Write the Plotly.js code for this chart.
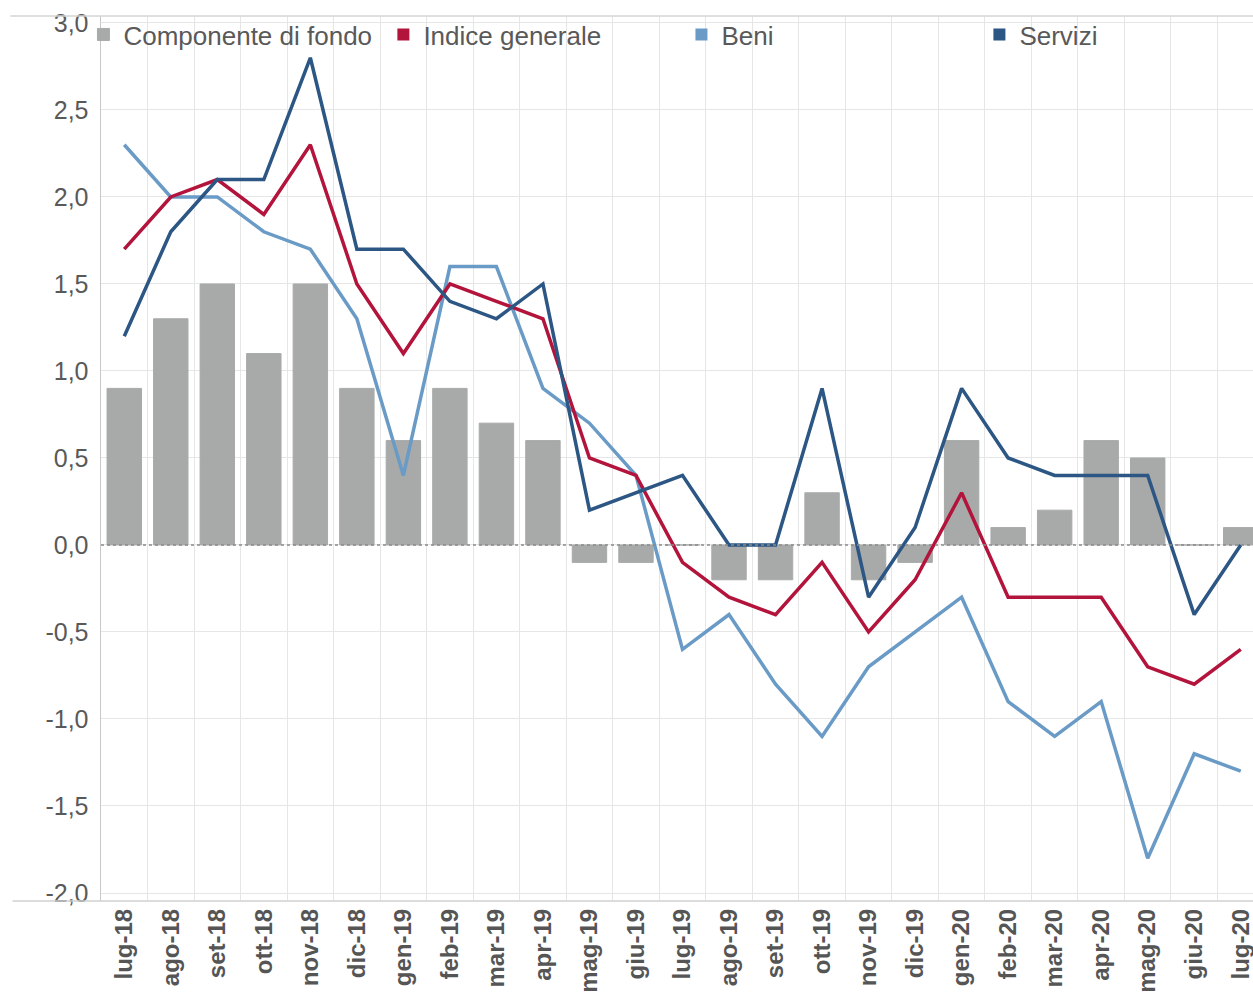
<!DOCTYPE html>
<html>
<head>
<meta charset="utf-8">
<script src="https://cdn.plot.ly/plotly-3.0.1.min.js"></script>
<style>
html,body{margin:0;padding:0;background:#fff;overflow:hidden;width:1253px;height:996px;}
#chart{width:1274px;height:996px;}
</style>
</head>
<body>
<div id="chart"></div>
<script>
const months = ["lug-18","ago-18","set-18","ott-18","nov-18","dic-18","gen-19","feb-19","mar-19","apr-19","mag-19","giu-19","lug-19","ago-19","set-19","ott-19","nov-19","dic-19","gen-20","feb-20","mar-20","apr-20","mag-20","giu-20","lug-20"];
const componenteDiFondo = [0.9,1.3,1.5,1.1,1.5,0.9,0.6,0.9,0.7,0.6,-0.1,-0.1,0.0,-0.2,-0.2,0.3,-0.2,-0.1,0.6,0.1,0.2,0.6,0.5,0.0,0.1];
const indiceGenerale = [1.7,2.0,2.1,1.9,2.3,1.5,1.1,1.5,1.4,1.3,0.5,0.4,-0.1,-0.3,-0.4,-0.1,-0.5,-0.2,0.3,-0.3,-0.3,-0.3,-0.7,-0.8,-0.6];
const beni = [2.3,2.0,2.0,1.8,1.7,1.3,0.4,1.6,1.6,0.9,0.7,0.4,-0.6,-0.4,-0.8,-1.1,-0.7,-0.5,-0.3,-0.9,-1.1,-0.9,-1.8,-1.2,-1.3];
const servizi = [1.2,1.8,2.1,2.1,2.8,1.7,1.7,1.4,1.3,1.5,0.2,0.3,0.4,0.0,0.0,0.9,-0.3,0.1,0.9,0.5,0.4,0.4,0.4,-0.4,0.0];
const yTicks = [-2.0,-1.5,-1.0,-0.5,0.0,0.5,1.0,1.5,2.0,2.5,3.0];
const yTickText = yTicks.map(v => v.toFixed(1).replace(".", ","));

const cGray = "#a8aaaa", cRed = "#b3143c", cLight = "#6a9bc6", cDark = "#2c5683";

const traces = [
  {type:"bar", x:months, y:componenteDiFondo, name:"Componente di fondo", marker:{color:cGray, line:{color:cGray, width:1}}, width:0.74, showlegend:true, legend:"legend"},
  {type:"bar", x:[months[0]], y:[null], name:"Indice generale", marker:{color:cRed}, showlegend:true, legend:"legend2", hoverinfo:"skip"},
  {type:"bar", x:[months[0]], y:[null], name:"Beni", marker:{color:cLight}, showlegend:true, legend:"legend3", hoverinfo:"skip"},
  {type:"bar", x:[months[0]], y:[null], name:"Servizi", marker:{color:cDark}, showlegend:true, legend:"legend4", hoverinfo:"skip"},
  {type:"scatter", mode:"lines", x:months, y:beni, name:"Beni", line:{color:cLight, width:3.5}, showlegend:false},
  {type:"scatter", mode:"lines", x:months, y:indiceGenerale, name:"Indice generale", line:{color:cRed, width:3.5}, showlegend:false},
  {type:"scatter", mode:"lines", x:months, y:servizi, name:"Servizi", line:{color:cDark, width:3.5}, showlegend:false}
];

function leg(x){
  return {orientation:"h", x:x, xanchor:"left", y:1.0056, yanchor:"top", bgcolor:"rgba(0,0,0,0)",
    font:{size:26, color:"#595959", family:"Liberation Sans, Arial, sans-serif"}, itemclick:false};
}

const layout = {
  width:1274, height:996,
  margin:{l:101, r:10, t:16, b:95},
  paper_bgcolor:"#fff", plot_bgcolor:"#fff",
  separators:",.",
  barmode:"overlay",
  font:{family:"Liberation Sans, Arial, sans-serif", color:"#595959"},
  xaxis:{type:"category", range:[-0.5,24.5], tickson:"boundaries", tickangle:-90,
    showgrid:true, gridcolor:"#e6e6e6", gridwidth:1, ticks:"", showline:false, zeroline:false,
    tickfont:{size:24, color:"#555", family:"Liberation Sans, Arial, sans-serif", weight:"bold"}, ticklabelstandoff:2},
  yaxis:{range:[-2.046,3.04], tickvals:yTicks, ticktext:yTickText, showgrid:true, gridcolor:"#e6e6e6",
    zeroline:false, showline:true, linecolor:"#c8c8c8", linewidth:1.5, ticks:"",
    tickfont:{size:25, color:"#595959"}, ticklabelstandoff:6},
  legend:leg(-0.0151),
  legend2:leg(0.2428),
  legend3:leg(0.4991),
  legend4:leg(0.7553),
  shapes:[
    {type:"line", xref:"paper", yref:"paper", x0:-0.078, x1:1, y0:1, y1:1, line:{color:"#d4d4d4", width:1.5}},
    {type:"line", xref:"paper", yref:"paper", x0:-0.076, x1:1, y0:0, y1:0, line:{color:"#d0d0d0", width:1.5}},
    {type:"line", xref:"paper", yref:"y", x0:0, x1:1, y0:0, y1:0, layer:"above", line:{color:"#8a8a8a", width:1.5, dash:"dot"}}
  ]
};

Plotly.newPlot("chart", traces, layout, {displayModeBar:false, staticPlot:true});
</script>
</body>
</html>
